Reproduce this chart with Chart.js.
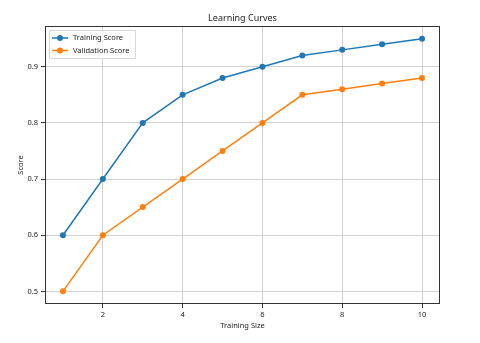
<!DOCTYPE html>
<html>
<head>
<meta charset="utf-8">
<script src="https://cdn.jsdelivr.net/npm/chart.js@4/dist/chart.umd.min.js"></script>
<style>
  html, body { margin: 0; padding: 0; background: #fff; }
  #wrap { width: 480px; height: 343px; position: relative; }
</style>
</head>
<body>
<div id="wrap"><canvas id="curve-chart"></canvas></div>
<script>
var trainingSizes   = [1, 2, 3, 4, 5, 6, 7, 8, 9, 10];
var trainingScore   = [0.60, 0.70, 0.80, 0.85, 0.88, 0.90, 0.92, 0.93, 0.94, 0.95];
var validationScore = [0.50, 0.60, 0.65, 0.70, 0.75, 0.80, 0.85, 0.86, 0.87, 0.88];
var xTicks = [2, 4, 6, 8, 10];
var yTicks = [0.5, 0.6, 0.7, 0.8, 0.9];

var FONT = '"Noto Sans", "DejaVu Sans", sans-serif';
var blue = '#1f77b4';
var orange = '#ff7f0e';

function toPoints(xs, ys) {
    return xs.map(function (x, i) { return { x: x, y: ys[i] }; });
}

// frame, titles and in-plot legend, matplotlib style
var decor = {
    id: 'decor',
    afterDraw: function (chart) {
        var ctx = chart.ctx;
        var a = chart.chartArea;
        ctx.save();
        ctx.strokeStyle = '#333';
        ctx.lineWidth = 1;
        ctx.strokeRect(Math.round(a.left) + 0.5, Math.round(a.top) + 0.5,
                       Math.round(a.right - a.left) - 1, Math.round(a.bottom - a.top) - 1);

        ctx.fillStyle = '#222';
        ctx.font = '9px ' + FONT;
        ctx.textAlign = 'center';
        ctx.textBaseline = 'middle';
        ctx.fillText('Learning Curves', (a.left + a.right) / 2, 18);

        ctx.font = '7.5px ' + FONT;
        ctx.fillText('Training Size', (a.left + a.right) / 2, 326);
        ctx.save();
        ctx.translate(21, (a.top + a.bottom) / 2);
        ctx.rotate(-Math.PI / 2);
        ctx.fillText('Score', 0, 0);
        ctx.restore();

        // legend box
        var bx = a.left + 4, by = a.top + 4, bw = 86, bh = 28;
        ctx.fillStyle = 'rgba(255,255,255,0.85)';
        ctx.strokeStyle = '#d8d8d8';
        ctx.beginPath();
        ctx.rect(bx + 0.5, by + 0.5, bw, bh);
        ctx.fill();
        ctx.stroke();
        var items = [['Training Score', blue], ['Validation Score', orange]];
        items.forEach(function (it, i) {
            var yy = by + 8 + i * 12.5;
            ctx.strokeStyle = it[1];
            ctx.lineWidth = 1.5;
            ctx.beginPath();
            ctx.moveTo(bx + 3, yy);
            ctx.lineTo(bx + 19, yy);
            ctx.stroke();
            ctx.fillStyle = it[1];
            ctx.beginPath();
            ctx.arc(bx + 11, yy, 3, 0, Math.PI * 2);
            ctx.fill();
            ctx.fillStyle = '#222';
            ctx.font = '7.5px ' + FONT;
            ctx.textAlign = 'left';
            ctx.fillText(it[0], bx + 24, yy);
        });
        ctx.restore();
    }
};

var ctx = document.getElementById('curve-chart').getContext('2d');
var chart = new Chart(ctx, {
    type: 'line',
    data: {
        datasets: [{
            label: 'Training Score',
            data: toPoints(trainingSizes, trainingScore),
            borderColor: blue,
            backgroundColor: blue,
            borderWidth: 1.5,
            pointRadius: 3,
            pointBorderWidth: 0,
            tension: 0
        }, {
            label: 'Validation Score',
            data: toPoints(trainingSizes, validationScore),
            borderColor: orange,
            backgroundColor: orange,
            borderWidth: 1.5,
            pointRadius: 3,
            pointBorderWidth: 0,
            tension: 0
        }]
    },
    options: {
        responsive: true,
        maintainAspectRatio: false,
        animation: false,
        layout: { padding: { top: 26, right: 40, left: 0, bottom: 0 } },
        plugins: {
            legend: { display: false },
            tooltip: { enabled: false }
        },
        scales: {
            x: {
                type: 'linear',
                min: 0.55,
                max: 10.45,
                afterBuildTicks: function (scale) {
                    scale.ticks = xTicks.map(function (v) { return { value: v }; });
                },
                afterFit: function (scale) { scale.height = 39; },
                grid: { color: '#d0d0d0', tickColor: '#333', tickLength: 4, lineWidth: 1 },
                border: { display: false },
                ticks: { color: '#222', font: { family: FONT, size: 7.5 }, padding: 2, maxRotation: 0 }
            },
            y: {
                min: 0.4775,
                max: 0.9725,
                afterBuildTicks: function (scale) {
                    scale.ticks = yTicks.map(function (v) { return { value: v }; });
                },
                afterFit: function (scale) { scale.width = 45; },
                grid: { color: '#d0d0d0', tickColor: '#333', tickLength: 4, lineWidth: 1 },
                border: { display: false },
                ticks: { color: '#222', font: { family: FONT, size: 7.5 }, padding: 3,
                         callback: function (v) { return v.toFixed(1); } }
            }
        }
    },
    plugins: [decor]
});
</script>
</body>
</html>
